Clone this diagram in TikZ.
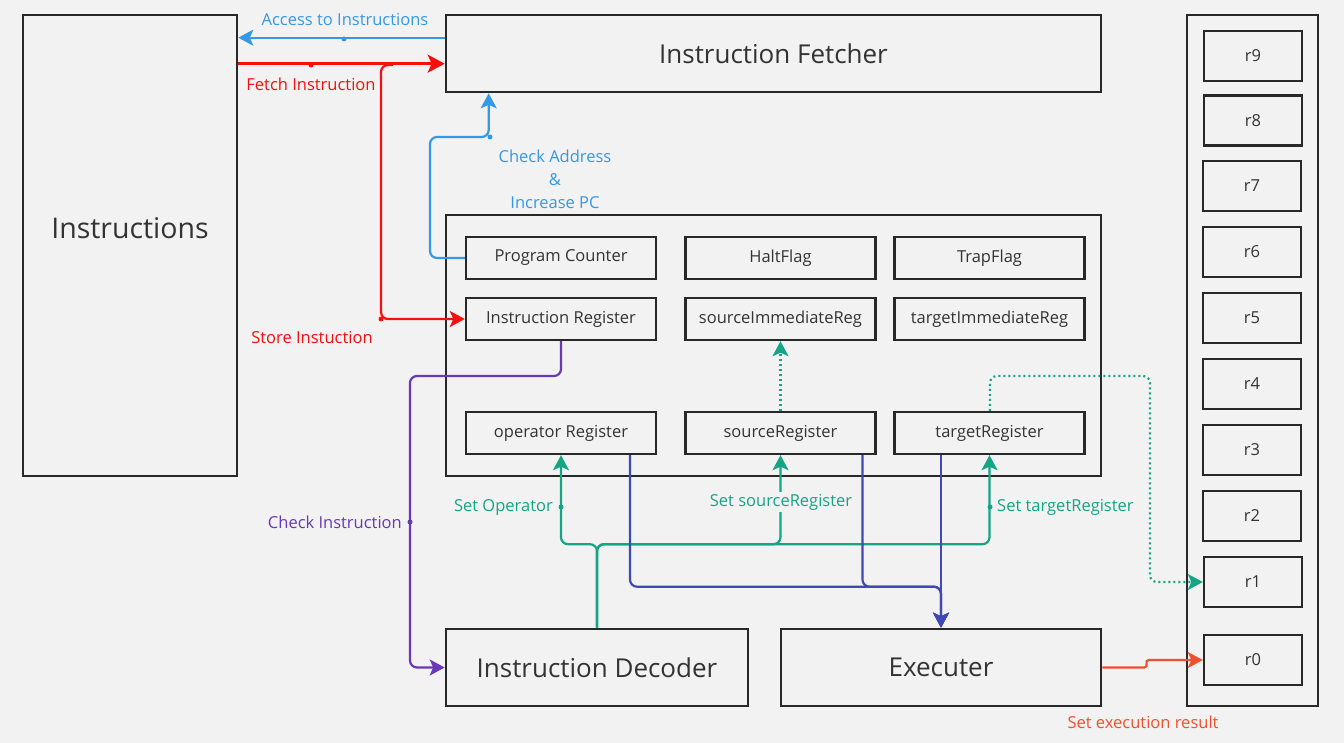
\documentclass[tikz,border=0pt]{standalone}
\usepackage{fontspec}
\setmainfont{Open Sans}
\usetikzlibrary{arrows.meta,calc}
\definecolor{bg}{RGB}{242,242,242}
\definecolor{edge}{RGB}{40,40,40}
\definecolor{txt}{RGB}{51,51,51}
\definecolor{cblue}{RGB}{52,152,230}
\definecolor{cred}{RGB}{245,15,15}
\definecolor{cpurple}{RGB}{104,56,184}
\definecolor{cteal}{RGB}{20,165,132}
\definecolor{cindigo}{RGB}{64,72,180}
\definecolor{corange}{RGB}{240,80,45}
\begin{document}
\begin{tikzpicture}[x=1pt,y=-1pt,
  bigbox/.style={draw=edge,line width=2.6pt,fill=none,inner sep=0pt,text=txt,font=\fontsize{26}{30}\selectfont},
  regbox/.style={draw=edge,line width=2.4pt,inner sep=0pt,text=txt,minimum width=190pt,minimum height=42pt,font=\fontsize{16.5}{19}\selectfont},
  rbox/.style={draw=edge,line width=2.4pt,inner sep=0pt,text=txt,minimum width=98pt,minimum height=50pt,font=\fontsize{16.5}{19}\selectfont},
  lbl/.style={inner sep=1pt,font=\fontsize{16.5}{19}\selectfont},
  tip/.tip={Stealth[length=15pt,width=16pt,inset=3.5pt]},
  bigtip/.tip={Stealth[length=17pt,width=18pt,inset=4pt]},
  conn/.style={line width=2.2pt,rounded corners=7pt,-tip},
  dot/.style={circle,fill,inner sep=0pt,minimum size=5pt}
]
\fill[bg] (0,0) rectangle (1344,743);
\useasboundingbox (0,0) rectangle (1344,743);

% main boxes
\node[bigbox,minimum width=214pt,minimum height=461pt] (instr) at (130,245.5) {};
\node[text=txt,font=\fontsize{28.5}{32}\selectfont] (instrlbl) at (130,228) {Instructions};
\node[bigbox,minimum width=655pt,minimum height=77pt] (fetch) at (773.5,53.5) {Instruction Fetcher};
\node[bigbox,minimum width=655pt,minimum height=261pt] (cpu) at (773.5,345.5) {};
\node[bigbox,minimum width=302pt,minimum height=77pt] (dec) at (597,667.5) {Instruction Decoder};
\node[bigbox,minimum width=320pt,minimum height=77pt] (exe) at (941,667.5) {Executer};
\node[bigbox,minimum width=131pt,minimum height=691pt] (rf) at (1252.5,360.5) {};

% registers
\node[regbox] (pc) at (561,258) {Program Counter};
\node[regbox] (halt) at (780.5,258) {HaltFlag};
\node[regbox] (trap) at (989.5,258) {TrapFlag};
\node[regbox] (ir) at (561,319) {Instruction Register};
\node[regbox] (simm) at (780.5,319) {sourceImmediateReg};
\node[regbox] (timm) at (989.5,319) {targetImmediateReg};
\node[regbox] (opr) at (561,433) {operator Register};
\node[regbox] (src) at (780.5,433) {sourceRegister};
\node[regbox] (tgt) at (989.5,433) {targetRegister};

% register file
\node[rbox] (r9) at (1253,56) {r9};
\node[rbox] (r8) at (1253,120.5) {r8};
\node[rbox] (r7) at (1252,186) {r7};
\node[rbox] (r6) at (1252,252) {r6};
\node[rbox] (r5) at (1252,318) {r5};
\node[rbox] (r4) at (1252,384) {r4};
\node[rbox] (r3) at (1252,450) {r3};
\node[rbox] (r2) at (1252,516) {r2};
\node[rbox] (r1) at (1253,582) {r1};
\node[rbox] (r0) at (1253,660) {r0};

% Access to Instructions
\draw[conn,cblue] ([yshift=-24pt]fetch.north west) -- ([yshift=-24pt]instr.north east);
\node[dot,cblue] (d1) at (344,39) {};
\node[lbl,text=cblue] (l1) at (345,20) {Access to Instructions};

% Fetch Instruction
\draw[conn,cred,line width=2.8pt,-bigtip] ([yshift=-50pt]instr.north east) -- ([yshift=-50pt]fetch.north west);
\node[dot,cred] (d2) at (311,65) {};
\node[lbl,text=cred] (l2) at (311,84) {Fetch Instruction};

% Store Instuction
\coordinate (fj) at (381,65);
\draw[conn,cred] ([xshift=12pt]fj) -- (fj) |- (ir.west);
\node[dot,cred] (d3) at (381,319) {};
\node[lbl,text=cred] (l3) at (312,338) {Store Instuction};

% Check Address
\coordinate (ca) at (430,137);
\draw[conn,cblue] (pc.west) -| (ca) -| ([xshift=44pt]fetch.south west);
\node[dot,cblue] (d4) at (490,137) {};
\node[lbl,text=cblue,align=center] (l4) at (555,179) {Check Address\\[4pt]\&\\[4pt]Increase PC};

% Check Instruction
\coordinate (ci) at (410,376);
\draw[conn,cpurple] (ir.south) |- (ci) |- (dec.west);
\node[dot,cpurple] (d5) at (410,522) {};
\node[lbl,text=cpurple,anchor=east] (l5) at (403,522) {Check Instruction};

% Decoder to registers
\draw[conn,cteal] (dec.north) |- ($(opr.south)+(0,89)$) -- (opr.south);
\draw[conn,cteal] (dec.north) |- ($(src.south)+(0,89)$) -- (src.south);
\draw[conn,cteal] (dec.north) |- ($(tgt.south)+(0,89)$) -- (tgt.south);
\node[dot,cteal] (d6) at (561,507) {};
\node[lbl,text=cteal,anchor=east] (l6) at (554,507) {Set Operator};
\node[lbl,text=cteal,fill=bg,inner sep=2pt] (l7) at (781,502) {Set sourceRegister};
\node[dot,cteal] (d8) at (990,507) {};
\node[lbl,text=cteal,anchor=west] (l8) at (996,507) {Set targetRegister};

% dotted connectors
\draw[conn,cteal,dash pattern=on 2pt off 3pt] (src.north) -- (simm.south);
\coordinate (tr) at (1150,376);
\draw[conn,cteal,dash pattern=on 2pt off 3pt] ([xshift=0.5pt]tgt.north) |- (tr) |- (r1.west);

% registers to executer
\draw[conn,cindigo] ([xshift=69pt]opr.south) |- ($(exe.north)+(0,-41)$) -- (exe.north);
\draw[conn,cindigo] ([xshift=82pt]src.south) |- ($(exe.north)+(0,-41)$) -- (exe.north);
\draw[conn,cindigo] ([xshift=-48.5pt]tgt.south) -- (exe.north);

% execution result
\draw[line width=2.2pt,corange,-tip] (exe.east) -- ++(42,0) .. controls +(5,0) and +(-5,0) .. ($(r0.west)+(-54,0)$) -- (r0.west);
\node[lbl,text=corange] (l9) at (1143,722) {Set execution result};
\end{tikzpicture}
\end{document}
